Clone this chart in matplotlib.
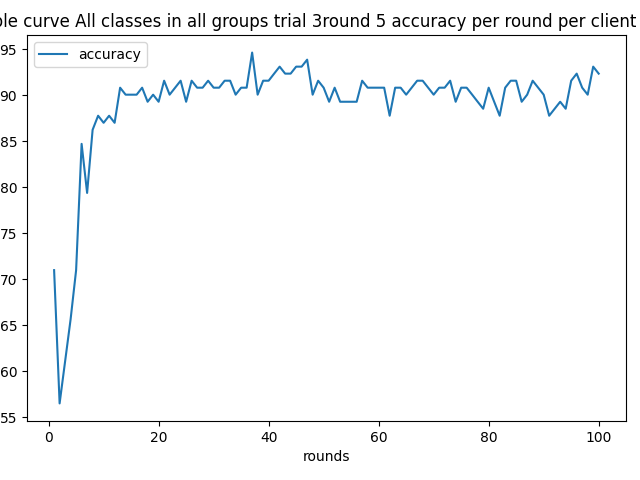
import matplotlib
matplotlib.use("Agg")
import matplotlib.pyplot as plt

rounds = list(range(1, 101))
accuracy = [
    70.99, 56.49, 61.07, 65.65, 70.99, 84.73, 79.39, 86.26, 87.79, 87.02,
    87.79, 87.02, 90.84, 90.08, 90.08, 90.08, 90.84, 89.31, 90.08, 89.31,
    91.60, 90.08, 90.84, 91.60, 89.31, 91.60, 90.84, 90.84, 91.60, 90.84,
    90.84, 91.60, 91.60, 90.08, 90.84, 90.84, 94.66, 90.08, 91.60, 91.60,
    92.37, 93.13, 92.37, 92.37, 93.13, 93.13, 93.89, 90.08, 91.60, 90.84,
    89.31, 90.84, 89.31, 89.31, 89.31, 89.31, 91.60, 90.84, 90.84, 90.84,
    90.84, 87.79, 90.84, 90.84, 90.08, 90.84, 91.60, 91.60, 90.84, 90.08,
    90.84, 90.84, 91.60, 89.31, 90.84, 90.84, 90.08, 89.31, 88.55, 90.84,
    89.31, 87.79, 90.84, 91.60, 91.60, 89.31, 90.08, 91.60, 90.84, 90.08,
    87.79, 88.55, 89.31, 88.55, 91.60, 92.37, 90.84, 90.08, 93.13, 92.37,
]
title = "Example curve All classes in all groups trial 3round 5 accuracy per round per client (10000)"

fig, ax = plt.subplots(figsize=(6.4, 4.8), dpi=100)
ax.plot(rounds, accuracy, color="#1f77b4", label="accuracy")
ax.set_xlabel("rounds")
ax.set_title(title)
ax.legend(loc="upper left")
fig.subplots_adjust(left=0.042, right=0.978, bottom=0.123, top=0.927)
fig.savefig("out.png", dpi=100)
